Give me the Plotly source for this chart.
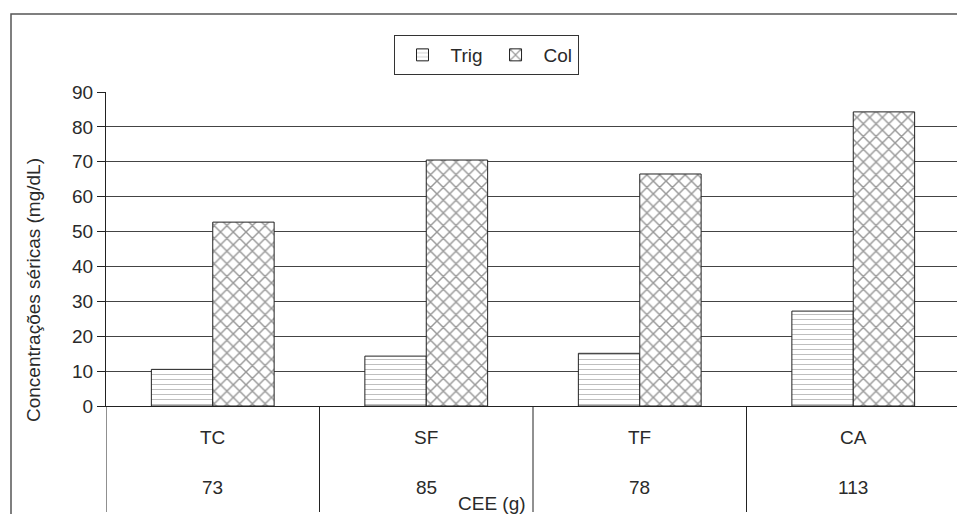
import plotly.graph_objects as go

categories = ["TC", "SF", "TF", "CA"]
cee_values = ["73", "85", "78", "113"]
trig = [10.5, 14.3, 15.1, 27.2]
col = [52.7, 70.5, 66.5, 84.3]
y_ticks = list(range(0, 100, 10))

FONT = "Liberation Sans, Arial, sans-serif"
TXT = "#2a2a2a"
FS = 19
OFF = 8  # page body margin offset

# reference pixel positions (page coords)
PB = 406
PT = 92
PL = 106
PR = 960
H = PB - PT
W = PR - PL


def py(px):
    return (PB - px) / H


def pxp(px):
    return (px - PL) / W


fig = go.Figure()
fig.add_trace(go.Bar(
    name="Trig", x=categories, y=trig,
    marker=dict(color="white", line=dict(color="#222222", width=1),
                pattern=dict(shape="-", size=5, solidity=0.15,
                             fgcolor="#555555", bgcolor="white")),
))
fig.add_trace(go.Bar(
    name="Col", x=categories, y=col,
    marker=dict(color="white", line=dict(color="#222222", width=1),
                pattern=dict(shape="x", size=9, solidity=0.3,
                             fgcolor="#333333", bgcolor="white")),
))

shapes = []
n = len(categories)
for i in range(n + 1):
    shapes.append(dict(type="line", xref="x", yref="paper",
                       x0=i - 0.5, x1=i - 0.5, y0=0, y1=py(512),
                       line=dict(color="#222222", width=1)))
shapes.append(dict(type="rect", xref="paper", yref="paper",
                   x0=pxp(11), x1=pxp(985), y0=py(14), y1=py(540),
                   line=dict(color="#555555", width=1.5)))

annotations = []
for c, v in zip(categories, cee_values):
    annotations.append(dict(x=c, y=py(437), xref="x", yref="paper",
                            xanchor="center", yanchor="middle",
                            text=c, showarrow=False,
                            font=dict(family=FONT, size=FS, color=TXT)))
    annotations.append(dict(x=c, y=py(487), xref="x", yref="paper",
                            xanchor="center", yanchor="middle",
                            text=v, showarrow=False,
                            font=dict(family=FONT, size=FS, color=TXT)))
annotations.append(dict(x=pxp(492), y=py(503), xref="paper", yref="paper",
                        xanchor="center", yanchor="middle",
                        text="CEE (g)", showarrow=False,
                        font=dict(family=FONT, size=FS, color=TXT)))
annotations.append(dict(x=pxp(33), y=py(290), xref="paper", yref="paper",
                        xanchor="center", yanchor="middle",
                        text="Concentrações séricas (mg/dL)", showarrow=False,
                        textangle=-90,
                        font=dict(family=FONT, size=FS, color=TXT)))

fig.update_layout(
    width=965, height=514,
    margin=dict(l=PL - OFF, r=965 - (PR - OFF), t=PT - OFF,
                b=514 - (PB - OFF), pad=0),
    paper_bgcolor="white", plot_bgcolor="white",
    barmode="group", bargap=0.425, bargroupgap=0,
    font=dict(family=FONT, size=FS, color=TXT),
    showlegend=True,
    legend=dict(orientation="h", x=pxp(486), xanchor="center",
                y=py(35), yanchor="top",
                bordercolor="#333333", borderwidth=1,
                font=dict(family=FONT, size=FS, color=TXT),
                itemwidth=46),
    xaxis=dict(showticklabels=False, ticks="", showgrid=False,
               showline=True, linecolor="#222222", linewidth=1,
               range=[-0.5, n - 0.5]),
    yaxis=dict(range=[0, 90], tickvals=y_ticks, ticks="outside", ticklen=8,
               tickcolor="#222222", showline=True, linecolor="#222222",
               linewidth=1, showgrid=True, gridcolor="#444444", gridwidth=1.2,
               zeroline=False,
               tickfont=dict(family=FONT, size=FS, color=TXT)),
    shapes=shapes,
    annotations=annotations,
)

fig.write_html("out.html")
